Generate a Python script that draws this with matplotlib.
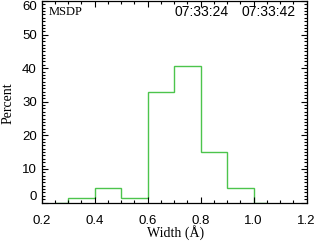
import numpy as np
import matplotlib.pyplot as plt
from matplotlib.ticker import MultipleLocator

# histogram of line widths (percent per bin)
edges = [0.25, 0.3, 0.4, 0.5, 0.6, 0.7, 0.8, 0.9, 1.0, 1.05]
percent = [0, 1.3, 4.4, 1.3, 33.0, 40.5, 14.9, 4.4, 0]
times = ["07:33:24", "07:33:42"]
xticks = [0.2, 0.4, 0.6, 0.8, 1.0, 1.2]
yticks = [0, 10, 20, 30, 40, 50, 60]

W, H = 315, 242
fig = plt.figure(figsize=(W/100, H/100), dpi=100)
x0, x1, y0, y1 = 41.7, 306.7, 1.0, 202.5
ax = fig.add_axes([x0/W, 1 - y1/H, (x1-x0)/W, (y1-y0)/H])

ax.stairs(percent, edges, baseline=None, color='#4cc44c', lw=1.0)

ax.set_xlim(0.2, 1.2)
ax.set_ylim(0, 60)
ax.set_xticks(xticks)
ax.set_xticklabels(['%.1f' % v for v in xticks], family='Liberation Sans', fontsize=9.5)
ax.set_yticks(yticks)
ax.set_yticklabels([str(v) for v in yticks], family='Liberation Sans', fontsize=9.5)
ax.xaxis.set_minor_locator(MultipleLocator(0.05))
ax.yaxis.set_minor_locator(MultipleLocator(1))
ax.tick_params(which='both', direction='in', top=True, right=True, width=0.8)
ax.tick_params(which='major', length=4)
ax.tick_params(which='minor', length=2)
ax.tick_params(axis='x', pad=9)
ax.tick_params(axis='y', pad=3.5)
# IDL-style: end labels kept inside the box
ylabs = ax.get_yticklabels()
ylabs[0].set_va('bottom')
ylabs[-1].set_va('top')
for sp in ax.spines.values():
    sp.set_linewidth(0.9)

fig.text(176/W, 1 - 233/H, 'Width (Å)', family='Liberation Serif', fontsize=10,
         ha='center', va='center')
fig.text(8/W, 1 - 103/H, 'Percent', family='Liberation Serif', fontsize=10,
         ha='center', va='center', rotation=90)

fig.text(49/W, 1 - 12/H, 'MSDP', family='Liberation Serif', fontsize=9,
         va='center', ha='left')
fig.text(202/W, 1 - 12/H, times[0], family='Liberation Sans', fontsize=10,
         va='center', ha='center')
fig.text(269/W, 1 - 12/H, times[1], family='Liberation Sans', fontsize=10,
         va='center', ha='center')

fig.savefig('out.png', dpi=100)
